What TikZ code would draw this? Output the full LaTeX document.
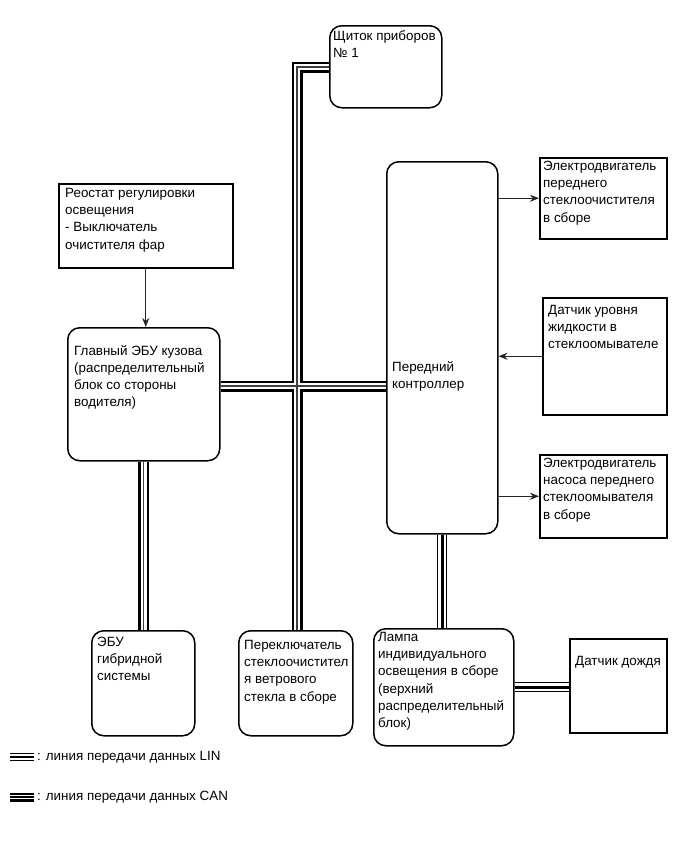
\documentclass[tikz,border=0pt]{standalone}
\usepackage{fontspec}
\setmainfont{Liberation Sans}
\usetikzlibrary{arrows.meta}
\begin{document}
\begin{tikzpicture}[x=1pt,y=-1pt,
  sqbox/.style={draw, line width=1.5pt, anchor=north west, inner sep=0pt},
  rbox/.style={sqbox, rounded corners=12pt},
  txt/.style={anchor=north west, inner sep=0pt, align=left, font=\fontsize{13.4}{17.2}\selectfont},
  lgd/.style={anchor=west, inner sep=0pt, font=\fontsize{13.4}{15}\selectfont},
  arr/.style={draw=black!85, line width=0.9pt, -{Stealth[length=9pt,width=7pt]}},
  canO/.style={draw=black, line width=11pt},
  canW/.style={draw=white, line width=6.5pt},
  canC/.style={draw=black!75, line width=1.3pt},
  linO/.style={draw=black, line width=10pt},
  linW/.style={draw=white, line width=8pt},
  linC/.style={draw=black, line width=2.8pt}]
\useasboundingbox[fill=white] (0,0) rectangle (690,854);

% boxes
\node[rbox, minimum width=112pt, minimum height=82pt] (sch) at (329,25) {};
\node[sqbox, minimum width=174pt, minimum height=84pt] (reo) at (58,183) {};
\node[rbox, minimum width=152pt, minimum height=133pt] (gl) at (67,327) {};
\node[rbox, minimum width=111pt, minimum height=372pt] (ctl) at (386,161) {};
\node[sqbox, minimum width=127pt, minimum height=81pt] (m1) at (539,157) {};
\node[sqbox, minimum width=124pt, minimum height=117pt] (dat) at (542,297) {};
\node[sqbox, minimum width=127pt, minimum height=83pt] (m2) at (539,454) {};
\node[rbox, minimum width=103pt, minimum height=105pt] (hyb) at (91,630) {};
\node[rbox, minimum width=114pt, minimum height=105pt] (sw) at (238,630) {};
\node[rbox, minimum width=140pt, minimum height=117pt] (lamp) at (373,628) {};
\node[sqbox, minimum width=97pt, minimum height=94pt] (rain) at (569,638) {};

% texts
\node[txt] (tsch) at (333,30) {Щиток приборов\\№ 1};
\node[txt] (treo) at (65,188) {Реостат регулировки\\освещения\\- Выключатель\\очистителя фар};
\node[txt] (tgl) at (74,345) {Главный ЭБУ кузова\\(распределительный\\блок со стороны\\водителя)};
\node[txt] (tctl) at (392,361) {Передний\\контроллер};
\node[txt] (tm1) at (543,161) {Электродвигатель\\переднего\\стеклоочистителя\\в сборе};
\node[txt] (tdat) at (548,305) {Датчик уровня\\жидкости в\\стеклоомывателе};
\node[txt] (tm2) at (543,458) {Электродвигатель\\насоса переднего\\стеклоомывателя\\в сборе};
\node[txt] (thyb) at (97,637) {ЭБУ\\гибридной\\системы};
\node[txt] (tsw) at (244,640) {Переключатель\\стеклоочистител\\я ветрового\\стекла в сборе};
\node[txt] (tlamp) at (378,632) {Лампа\\индивидуального\\освещения в сборе\\(верхний\\распределительный\\блок)};
\node[txt] (train) at (575,656) {Датчик дождя};

% coordinates for buses
\coordinate (busY) at (0,386);
\coordinate (busX) at (297,0);
\coordinate (schY) at (0,67);

% CAN buses (layered)
\foreach \s in {canO,canW,canC}{
  \draw[\s] (gl.east |- busY) -- (ctl.west |- busY);
  \draw[\s] (sw.north -| busX) -- (busX |- schY) -- (sch.west |- schY);
  \draw[\s] (gl.south) -- (gl.south |- hyb.north);
}
% LIN buses
\foreach \s in {linO,linW,linC}{
  \draw[\s] (ctl.south) -- (ctl.south |- lamp.north);
  \draw[\s] (lamp.east) -- (lamp.east -| rain.west);
}

% arrows
\draw[arr] (reo.south) -- (reo.south |- gl.north);
\draw[arr] (m1.west -| ctl.east) -- (m1.west);
\draw[arr] (dat.west) -- (dat.west -| ctl.east);
\draw[arr] (m2.west -| ctl.east) -- (m2.west);

% legend
\coordinate (l1a) at (10,757);
\coordinate (l1b) at (34,757);
\coordinate (l2a) at (10,797);
\coordinate (l2b) at (34,797);
\draw[draw=black, line width=8pt] (l1a) -- (l1b);
\draw[draw=white, line width=5.5pt] (l1a) -- (l1b);
\draw[draw=black, line width=2.2pt] (l1a) -- (l1b);
\draw[draw=black, line width=9pt] (l2a) -- (l2b);
\draw[draw=white, line width=4.5pt] (l2a) -- (l2b);
\draw[draw=black, line width=2pt] (l2a) -- (l2b);
\node[lgd] (tl1) at (37,757) {: линия передачи данных LIN};
\node[lgd] (tl2) at (37,797) {: линия передачи данных CAN};
\end{tikzpicture}
\end{document}
